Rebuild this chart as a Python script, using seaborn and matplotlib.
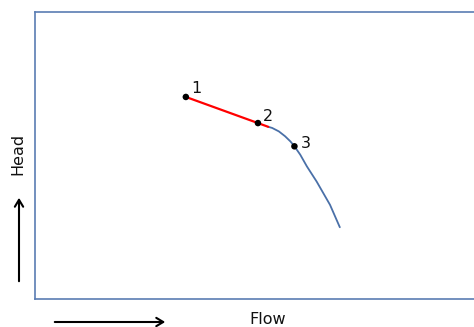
"""
Pump curve sketch: head vs flow with three marked operating points.
"""

import matplotlib
matplotlib.use("Agg")
import matplotlib.pyplot as plt
from matplotlib.patches import FancyArrowPatch
import pandas as pd
import seaborn as sns

# Flow / head in percent of the axis range
red_flow = [33.9, 50.1, 52.4]
red_head = [70.4, 61.3, 60.0]

blue_flow = [52.4, 53.3, 54.8, 56.2, 57.4, 58.3, 59.6, 61.1, 63.3, 66.3, 68.5]
blue_head = [60.0, 59.6, 58.4, 56.7, 54.9, 53.2, 50.3, 46.2, 40.9, 32.8, 25.0]

point_labels = ["1", "2", "3"]
point_flow = [33.9, 50.1, 58.3]
point_head = [70.4, 61.3, 53.2]

sns.set_style("white")
plt.rcParams["font.family"] = ["DejaVu Sans"]

fig = plt.figure(figsize=(4.74, 3.27), dpi=100)
ax = fig.add_axes([35 / 474, 1 - 299 / 327, 1.02 - 35 / 474, 287 / 327])

red = pd.DataFrame({"flow": red_flow, "head": red_head})
blue = pd.DataFrame({"flow": blue_flow, "head": blue_head})
pts = pd.DataFrame({"flow": point_flow, "head": point_head, "label": point_labels})

sns.lineplot(data=blue, x="flow", y="head", color="#4a70a8", linewidth=1.3,
             sort=False, ax=ax)
sns.lineplot(data=red, x="flow", y="head", color="#ff0000", linewidth=1.6,
             sort=False, ax=ax)
sns.scatterplot(data=pts, x="flow", y="head", color="black", s=22,
                edgecolor="none", zorder=5, ax=ax)

# label offsets in pixels (dx, dy)
offsets = [(5, 8), (5, 7), (6, 3)]
for (_, row), (dx, dy) in zip(pts.iterrows(), offsets):
    ax.annotate(row["label"], (row["flow"], row["head"]),
                xytext=(dx * 0.72, dy * 0.72), textcoords="offset points",
                ha="left", va="center", fontsize=11.5, color="#111111")

# one unit = 4.45 px horizontally
ax.set_xlim(0, 100 * (1.02 * 474 - 35) / 445)
ax.set_ylim(0, 100)
ax.set_xticks([])
ax.set_yticks([])
ax.set_xlabel("")
ax.set_ylabel("")
for side in ["left", "top", "bottom", "right"]:
    ax.spines[side].set_color("#5a7db3")
    ax.spines[side].set_linewidth(1.2)

# axis captions and arrows outside the frame
fig.text(268 / 474, 1 - 320 / 327, "Flow", ha="center", va="center",
         fontsize=11.5, color="#111111")
fig.text(18 / 474, 1 - 154 / 327, "Head", ha="center", va="center",
         rotation=90, fontsize=11.5, color="#111111")
fig.add_artist(FancyArrowPatch((52 / 474, 1 - 322 / 327), (168 / 474, 1 - 322 / 327),
                               transform=fig.transFigure, arrowstyle="->,head_length=5,head_width=3",
                               color="black", linewidth=1.5))
fig.add_artist(FancyArrowPatch((19 / 474, 1 - 284 / 327), (19 / 474, 1 - 195 / 327),
                               transform=fig.transFigure, arrowstyle="->,head_length=5,head_width=3",
                               color="black", linewidth=1.5))

fig.savefig("out.png", dpi=100, facecolor="white")
